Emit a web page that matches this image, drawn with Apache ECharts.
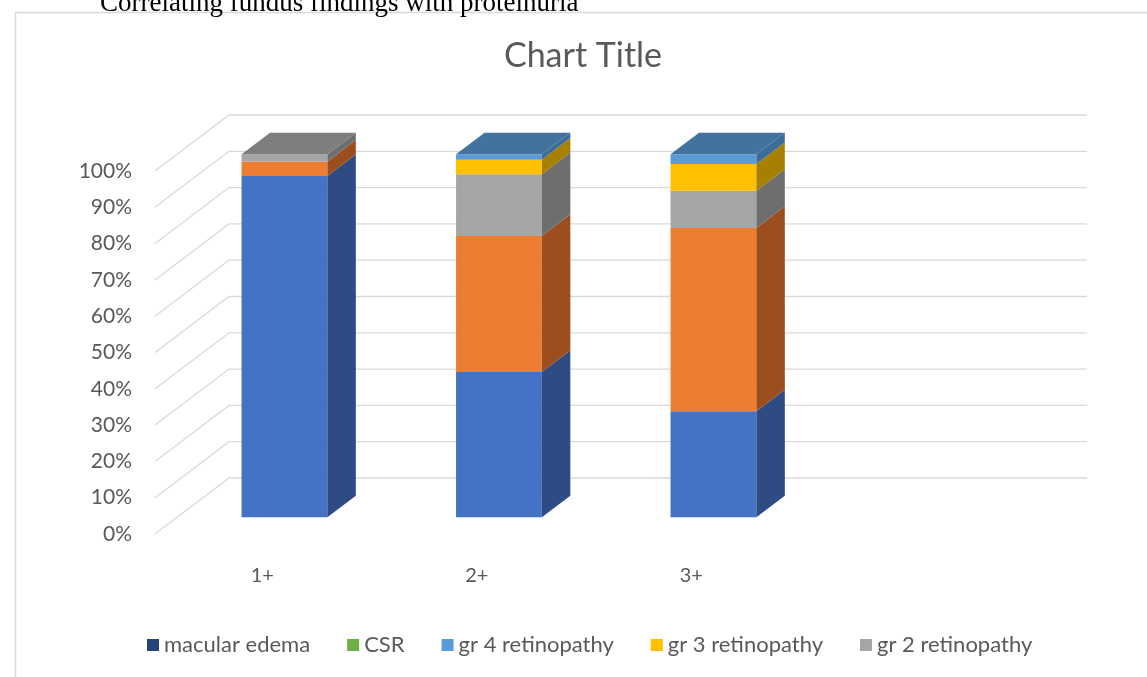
<!DOCTYPE html>
<html lang="en">
<head>
    <meta charset="UTF-8">
    <title>Correlating fundus findings with proteinuria</title>
    <script type="text/javascript" src="https://cdn.jsdelivr.net/npm/echarts@6/dist/echarts.min.js"></script>
    <style>
        html, body { margin: 0; padding: 0; background: #fff; }
        #chart { width: 1147px; height: 677px; }
    </style>
</head>
<body>
<div id="chart"></div>
<script type="text/javascript">
    // categories (proteinuria grade) - the 4th slot is empty like in the original
    var categories = ['1+', '2+', '3+', ''];
    var seriesNames = ['normal fundus', 'gr 1 retinopathy', 'gr 2 retinopathy', 'gr 3 retinopathy',
        'gr 4 retinopathy', 'CSR', 'macular edema'];
    // percentages per category, bottom of the stack first
    var normalFundus = [94, 40, 29.2];
    var gr1Retino = [4, 37.5, 50.5];
    var gr2Retino = [2, 17, 10.2];
    var gr3Retino = [0, 4, 7.4];
    var gr4Retino = [0, 1.5, 2.7];
    var csr = [0, 0, 0];
    var macularEdema = [0, 0, 0];
    var yTicks = [0, 10, 20, 30, 40, 50, 60, 70, 80, 90, 100];
    var legendNames = ['macular edema', 'CSR', 'gr 4 retinopathy', 'gr 3 retinopathy', 'gr 2 retinopathy'];

    var allValues = [normalFundus, gr1Retino, gr2Retino, gr3Retino, gr4Retino, csr, macularEdema];
    // front / side / top face colours
    var faces = [
        ['#4472C4', '#2E4C83', '#2E4C83'],
        ['#ED7D31', '#9C4E1F', '#9C4E1F'],
        ['#A5A5A5', '#6E6E6E', '#7E7E7E'],
        ['#FFC000', '#A88000', '#A88000'],
        ['#5B9BD5', '#3D6C99', '#42739F'],
        ['#70AD47', '#4B752F', '#4B752F'],
        ['#264478', '#1A2F53', '#1A2F53']
    ];

    // oblique depth of the floor (front edge -> back wall)
    var DX = 74, DY = -56;
    var BAR_POS = 0.3, BAR_DEPTH = 0.385;

    var dom = document.getElementById('chart');
    var myChart = echarts.init(dom);

    // which series is the top of each stack
    var topIdx = [];
    for (var c = 0; c < normalFundus.length; c++) {
        topIdx[c] = 0;
        for (var s = 0; s < allValues.length; s++) {
            if (allValues[s][c] > 0) topIdx[c] = s;
        }
    }

    function renderBar(params, api) {
        var cat = api.value(0), base = api.value(1), top = api.value(2), isTop = api.value(3);
        if (top - base <= 0) return;
        var col = faces[params.seriesIndex - 1];
        var p0 = api.coord([cat, base]);
        var p1 = api.coord([cat, top]);
        var w = api.size([1, 0])[0] * 0.4;
        var ox = DX * BAR_POS, oy = DY * BAR_POS;
        var bx = DX * BAR_DEPTH, by = DY * BAR_DEPTH;
        var L = p0[0] - w / 2 + ox, R = L + w;
        var yb = p0[1] + oy, yt = p1[1] + oy;
        var children = [
            {type: 'rect', shape: {x: L, y: yt, width: w, height: yb - yt}, style: {fill: col[0]}},
            {type: 'polygon', shape: {points: [[R, yb], [R, yt], [R + bx, yt + by], [R + bx, yb + by]]},
                style: {fill: col[1]}}
        ];
        if (isTop) {
            children.push({type: 'polygon',
                shape: {points: [[L, yt], [R, yt], [R + bx, yt + by], [L + bx, yt + by]]},
                style: {fill: col[2]}});
        }
        return {type: 'group', children: children};
    }

    function renderGrid(params, api) {
        var y = api.coord([0, api.value(1)])[1];
        var cs = params.coordSys;
        var x0 = cs.x, x1 = cs.x + cs.width;
        return {
            type: 'polyline',
            shape: {points: [[x0, y], [x0 + DX, y + DY], [x1 + DX, y + DY]]},
            style: {stroke: '#D9D9D9', lineWidth: 1.3, fill: null}
        };
    }

    var series = [{
        name: 'grid',
        type: 'custom',
        silent: true,
        z: 1,
        renderItem: renderGrid,
        encode: {x: 0, y: 1},
        data: yTicks.map(function (v) { return [0, v]; })
    }];

    var bases = normalFundus.map(function () { return 0; });
    for (var s = 0; s < allValues.length; s++) {
        var d = [];
        for (var c = 0; c < normalFundus.length; c++) {
            var v = allValues[s][c];
            d.push([c, bases[c], bases[c] + v, topIdx[c] === s ? 1 : 0]);
            bases[c] += v;
        }
        series.push({
            name: seriesNames[s],
            type: 'custom',
            z: 2,
            renderItem: renderBar,
            itemStyle: {color: faces[s][0]},
            encode: {x: 0, y: [1, 2]},
            data: d
        });
    }

    var option = {
        animation: false,
        textStyle: {fontFamily: 'Lato'},
        graphic: [
            {type: 'rect', left: 13, top: 10, shape: {width: 1200, height: 700},
                style: {fill: null, stroke: '#D9D9D9', lineWidth: 1.5}},
            {type: 'text', x: 100, y: 4, style: {text: 'Correlating fundus findings with proteinuria',
                fontFamily: 'Liberation Serif', fontSize: 27, fill: '#000', verticalAlign: 'middle'}},
            {type: 'text', x: 583, y: 56, style: {text: 'Chart Title', fontFamily: 'Lato', fontSize: 34,
                fill: '#595959', align: 'center', verticalAlign: 'middle'}}
        ],
        legend: {
            data: legendNames,
            left: 142,
            top: 629,
            itemWidth: 12,
            itemHeight: 12,
            itemGap: 37,
            icon: 'rect',
            textStyle: {fontSize: 22, color: '#595959', fontFamily: 'Lato'}
        },
        grid: {left: 155, right: 134, top: 171, bottom: 143},
        xAxis: {
            type: 'category',
            data: categories,
            axisLine: {show: false},
            axisTick: {show: false},
            axisLabel: {margin: 32, fontSize: 20, color: '#595959'}
        },
        yAxis: {
            type: 'value',
            min: 0,
            max: 100,
            interval: 10,
            axisLine: {show: false},
            axisTick: {show: false},
            splitLine: {show: false},
            axisLabel: {margin: 23, fontSize: 21, color: '#595959', formatter: '{value}%'}
        },
        series: series
    };

    if (option && typeof option === "object") {
        myChart.setOption(option, true);
    }
</script>
</body>
</html>
